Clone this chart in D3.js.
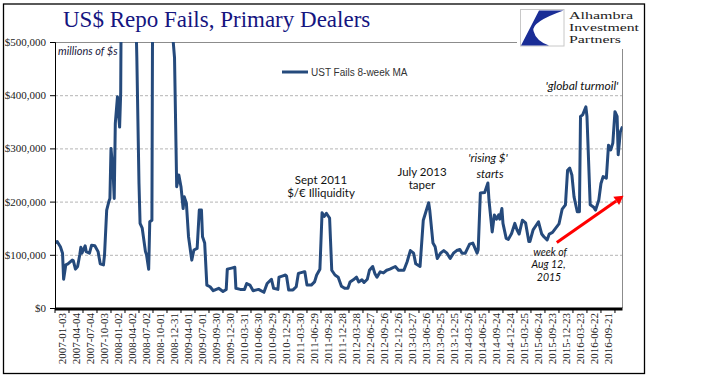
<!DOCTYPE html>
<html><head><meta charset="utf-8">
<script src="https://cdn.jsdelivr.net/npm/d3@7/dist/d3.min.js"></script>
<style>body{margin:0;background:#fff}svg{display:block}</style>
</head><body><svg id="c" width="716" height="381"></svg>
<script>
// week index (0 = first week on the axis) and UST fails, 8-week MA, millions of $
const weeks = [0,2,5,7,8,10,12,16,17,19,21,23,24,25,28,29,32,34,37,40,42,45,46,48,50,51,52,54,55,56,58,59,60,61,62,66,70,73,75,76,78,79,81,84,85,87,88,90,91,95,100,105,107,109,111,113,115,117,119,120,122,124,127,129,132,134,136,137,139,141,144,147,152,156,159,160,164,167,168,172,176,178,181,184,189,194,197,201,203,207,208,211,214,215,217,221,224,226,231,232,234,238,241,243,246,248,250,252,254,255,257,260,263,266,269,272,274,277,280,282,285,287,290,292,295,297,299,302,305,308,311,316,319,324,327,330,333,335,339,342,344,347,348,351,353,355,358,361,364,367,370,373,376,378,381,385,388,392,393,395,399,402,403,406,408,410,412,413,415,416,419,421,424,427,429,431,434,437,440,441,444,447,449,452,454,457,459,462,465,468,471,474,476,478,480,482,485,487,488,490,493,494,497,500,502,505,507,509,512,514,516,518,520,522,523,525,527];
const fails = [122000,125000,115000,103000,54000,81000,83000,90000,89000,73000,78000,100000,114000,103000,117000,106000,103000,118000,117000,106000,83000,81000,100000,184000,200000,206000,300000,253000,206000,347000,397000,366000,340000,404000,750000,1400000,1900000,1100000,560000,470000,234000,159000,150000,106000,100000,73000,162000,165000,800000,1500000,1800000,1200000,600000,520000,470000,228000,250000,228000,187000,209000,197000,134000,90000,109000,112000,184000,184000,134000,122000,43000,40000,32500,37000,31000,35000,73000,75000,76500,37000,35000,35000,46000,43000,32500,35000,29500,46000,54000,37000,35000,58000,60000,62000,60000,34000,34000,40000,65000,68000,68000,43000,43000,49000,62000,73000,179000,172000,178000,172000,169000,71000,62000,58000,41000,37000,37000,49000,53000,58000,49000,53000,48000,54000,71000,78000,65000,58000,68000,66000,71000,73000,78000,71000,71000,87000,108000,103000,83000,78000,165000,178000,198000,184000,122000,115000,93000,103000,108000,103000,93000,103000,108000,110000,103000,103000,120000,122000,103000,110000,216000,217000,235000,203000,143000,175000,167000,175000,167000,187000,159000,131000,129000,140000,159000,147000,139000,165000,160000,125000,125000,147000,156000,162000,139000,134000,128000,139000,142000,150000,158000,186000,194000,259000,263000,250000,209000,181000,181000,360000,363000,378000,360000,194000,190000,184000,203000,234000,247000,244000,306000,297000,310000,369000,360000,288000,331000,341000];
const yTicks = [0,100000,200000,300000,400000,500000];
const xTickLabels = ["2007-01-03","2007-04-04","2007-07-04","2007-10-03","2008-01-02","2008-04-02","2008-07-02","2008-10-01","2008-12-31","2009-04-01","2009-07-01","2009-09-30","2009-12-30","2010-03-31","2010-06-30","2010-09-29","2010-12-29","2011-03-30","2011-06-29","2011-09-28","2011-12-28","2012-03-28","2012-06-27","2012-09-26","2012-12-26","2013-03-27","2013-06-26","2013-09-25","2013-12-25","2014-03-26","2014-06-25","2014-09-24","2014-12-24","2015-03-25","2015-06-24","2015-09-23","2015-12-23","2016-03-23","2016-06-22","2016-09-21"];
const seriesName = "UST Fails 8-week MA";
const logoLines = ["Alhambra","Investment","Partners"];
const arrowFrom = [466, 123000], arrowTo = [528, 211000];

const svg = d3.select("#c");
const L = 55, R = 622.5, T = 42, B = 308;
const x = d3.scaleLinear().domain([0, 527]).range([L, R]);
const y = d3.scaleLinear().domain([0, 500000]).range([B, T]);
const lineColor = "#254a7c";

// outer frame
svg.append("rect").attr("x",3.5).attr("y",4).attr("width",641).attr("height",369.5)
  .attr("fill","#fff").attr("stroke","#000").attr("stroke-width",1.3);

// gridlines
svg.append("g").selectAll("line").data(yTicks.filter(d=>d>0 && d<500000)).join("line")
  .attr("x1",L).attr("x2",R).attr("y1",d=>y(d)+0.5).attr("y2",d=>y(d)+0.5)
  .attr("stroke","#b4b4b4").attr("stroke-width",1).attr("stroke-dasharray","3,2");
// plot border top/right
svg.append("path").attr("d",`M${L},${T+0.5}H${R}V${B}`).attr("fill","none").attr("stroke","#8c8c8c").attr("stroke-width",1);

// line
svg.append("clipPath").attr("id","clip").append("rect").attr("x",L).attr("y",T).attr("width",R-L).attr("height",B-T);
const pts = weeks.map((w,i)=>[w,fails[i]]);
svg.append("path").datum(pts).attr("clip-path","url(#clip)")
  .attr("d", d3.line().x(d=>x(d[0])).y(d=>y(d[1])))
  .attr("fill","none").attr("stroke",lineColor).attr("stroke-width",3).attr("stroke-linejoin","round");

// y axis
const ya = svg.append("g").attr("transform",`translate(${L},0)`)
  .call(d3.axisLeft(y).tickValues(yTicks).tickSize(5).tickFormat(d=>"$"+d3.format(",")(d)));
ya.select(".domain").attr("stroke","#000");
ya.selectAll(".tick line").attr("stroke","#000");
ya.selectAll(".tick text").attr("x",-9).attr("dy","0.32em")
  .attr("font-family","'Liberation Serif', serif").attr("font-size",11).attr("fill","#222");

// x axis
const tickIdx = d3.range(0, 528, 13);
const xa = svg.append("g").attr("transform",`translate(0,${B+1})`);
xa.append("line").attr("x1",L).attr("x2",R).attr("stroke","#000").attr("stroke-width",3);
xa.selectAll(".tk").data(tickIdx).join("line").attr("class","tk")
  .attr("x1",d=>x(d)).attr("x2",d=>x(d)).attr("y1",0).attr("y2",4).attr("stroke","#000").attr("stroke-width",1);
xa.selectAll("text").data(xTickLabels).join("text")
  .attr("transform",(d,i)=>`translate(${x(13*i+6.5)+4},${313-B-1}) rotate(-90)`)
  .attr("text-anchor","end").attr("font-family","'Liberation Serif', serif").attr("font-size",11).attr("fill","#222")
  .text(d=>d);

// title
svg.append("text").attr("x",63).attr("y",27).attr("font-family","'Liberation Serif', serif").attr("font-size",23)
  .attr("fill","#15157f").text("US$ Repo Fails, Primary Dealers");

// logo
const lg = svg.append("g");
lg.append("rect").attr("x",517).attr("y",5).attr("width",110).attr("height",44).attr("fill","#fff");
lg.append("rect").attr("x",520.5).attr("y",9.5).attr("width",43.5).attr("height",36.5).attr("fill","#fff").attr("stroke","#c8c8c8");
lg.append("path").attr("d","M539,10.5 L563.5,10.5 Q531,22 533.5,31 Q536,41 549,45.5 L521,45.5 Z").attr("fill","#1a2d96");
const logoW = [64, 70, 52];
logoLines.forEach((t,i)=>lg.append("text").attr("x",569).attr("y",19+i*12)
  .attr("font-family","'Liberation Serif', serif").attr("font-size",11).attr("fill","#222")
  .attr("textLength",logoW[i]).attr("lengthAdjust","spacingAndGlyphs").text(t));

// legend
svg.append("line").attr("x1",282).attr("x2",308).attr("y1",72).attr("y2",72).attr("stroke",lineColor).attr("stroke-width",3);
svg.append("text").attr("x",311).attr("y",75.5).attr("font-family","'Liberation Sans', Arial, sans-serif").attr("font-size",10)
  .attr("fill","#333").text(seriesName);

// annotations
const ann = (t,xx,yy,it,fs)=>svg.append("text").attr("x",xx).attr("y",yy).attr("text-anchor","middle")
  .attr("font-family","Lato, sans-serif").attr("font-size",fs||12).attr("font-style",it?"italic":"normal").attr("fill","#111").text(t);
svg.append("text").attr("x",58).attr("y",55).attr("font-family","Lato, sans-serif").attr("font-size",11).attr("font-style","italic").attr("fill","#1a1a40").text("millions of $s");
ann("Sept 2011",321,184,false,11.5);
ann("$/€ Illiquidity",321,197,false,11.5);
ann("July 2013",422,175.5,false,11.5);
ann("taper",422,188.5,false,11.5);
ann("'rising $'",488,162,true,11.5);
ann("starts",490,177.5,true,11.5);
ann("'global turmoil'",582,89.5,true);
ann("week of",550,255.5,true,10.5);
ann("Aug 12,",548.5,268,true,10.5);
ann("2015",549,280.5,true,10.5);

// red arrow
const ax1=x(arrowFrom[0]), ay1=y(arrowFrom[1]), ax2=x(arrowTo[0]), ay2=y(arrowTo[1]);
const ang=Math.atan2(ay2-ay1,ax2-ax1), hl=9, hw=5;
const bx=ax2-hl*Math.cos(ang), by=ay2-hl*Math.sin(ang);
svg.append("line").attr("x1",ax1).attr("y1",ay1).attr("x2",bx).attr("y2",by).attr("stroke","#ff0000").attr("stroke-width",3);
svg.append("path").attr("d",`M${ax2},${ay2} L${bx+hw*Math.sin(ang)},${by-hw*Math.cos(ang)} L${bx-hw*Math.sin(ang)},${by+hw*Math.cos(ang)} Z`).attr("fill","#ff0000");
</script></body></html>
